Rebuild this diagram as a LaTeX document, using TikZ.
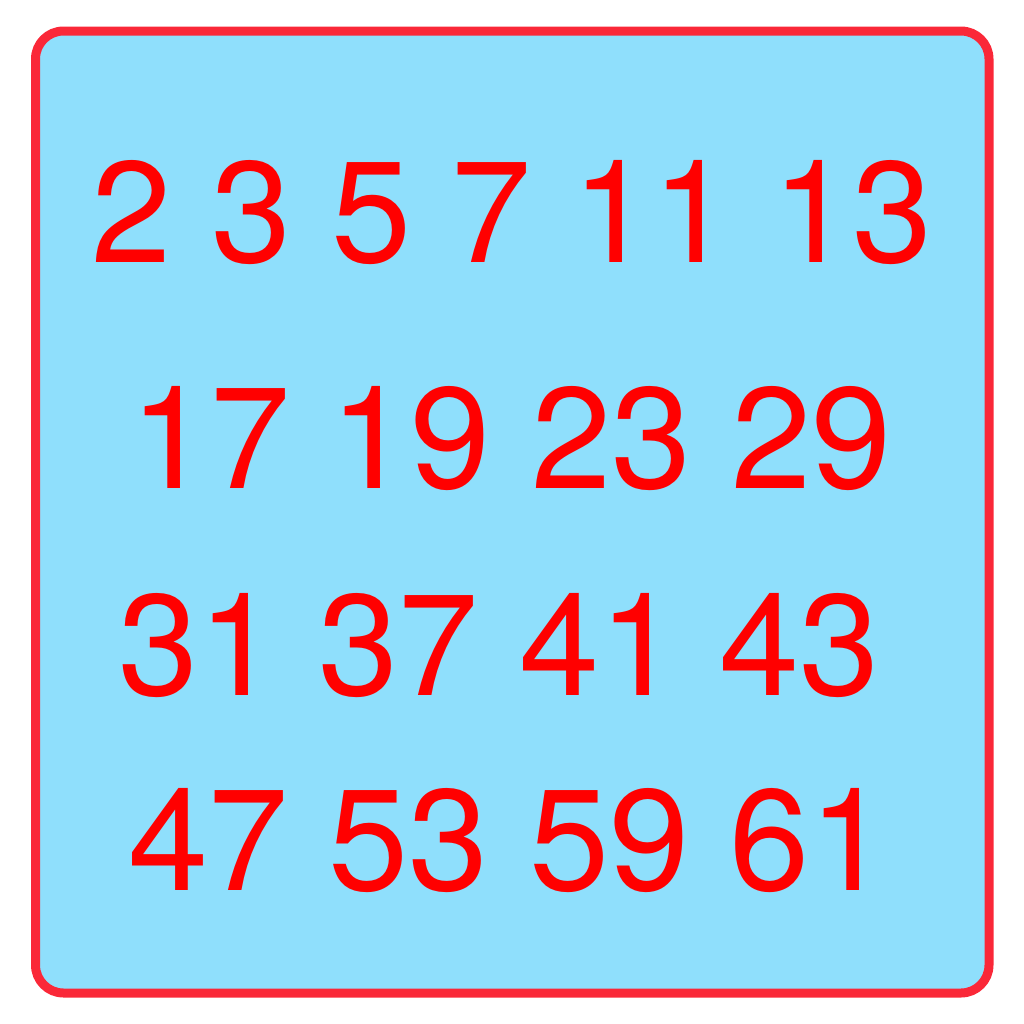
\documentclass[tikz,border=0pt]{standalone}
\usepackage{fontspec}
\setmainfont{TeX Gyre Heros}
\definecolor{boxfill}{HTML}{8FDFFC}
\definecolor{boxline}{HTML}{FA2838}
\definecolor{primered}{HTML}{FF0000}
\begin{document}
\begin{tikzpicture}[x=0.5pt,y=-0.5pt]
  \tikzstyle{primerow}=[text=primered,inner sep=0pt,anchor=base,font=\fontsize{72}{72}\selectfont]
  \useasboundingbox (0,0) rectangle (1024,1024);
  \draw[boxline,line width=4.5pt,fill=boxfill,rounded corners=14pt] (35.5,31) rectangle (989,993);
  \node[primerow] (R1) at (512,262) {2 3 5 7 11 13};
  \node[primerow] (R2) at (511,488) {17 19 23 29};
  \node[primerow] (R3) at (499,695) {31 37 41 43};
  \node[primerow] (R4) at (509,890) {47 53 59 61};
\end{tikzpicture}
\end{document}
